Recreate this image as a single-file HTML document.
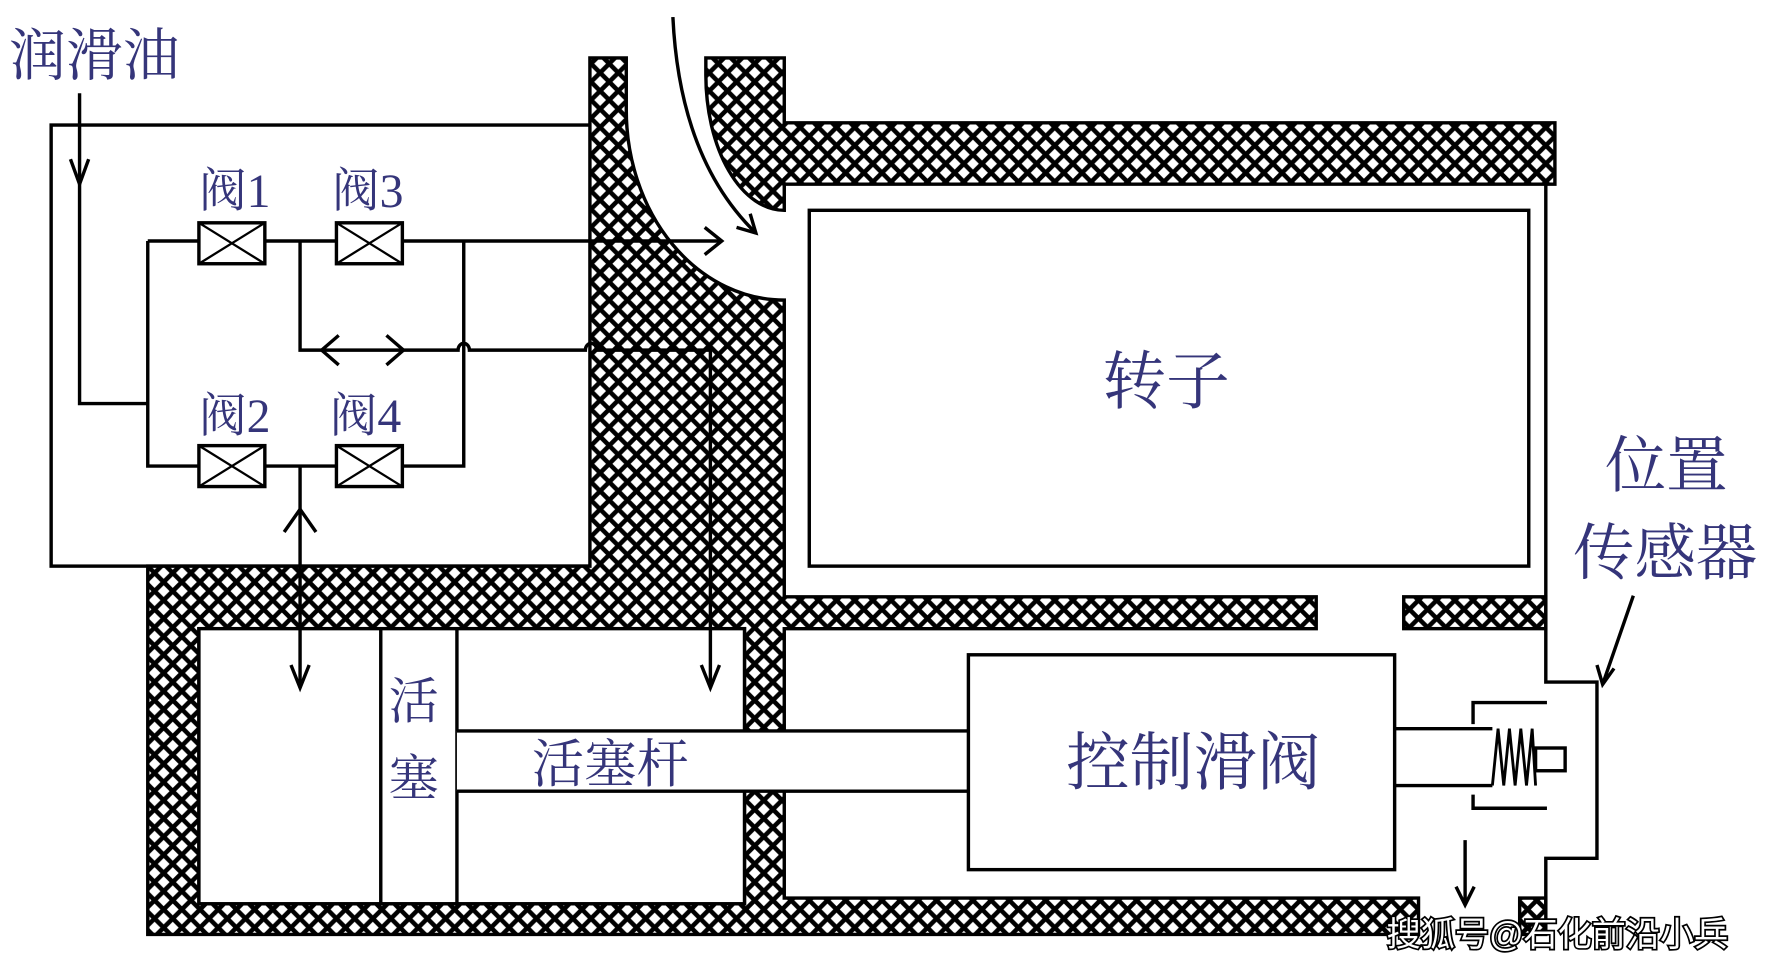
<!DOCTYPE html>
<html><head><meta charset="utf-8"><style>
html,body{margin:0;padding:0;background:#fff;width:1772px;height:964px;overflow:hidden}
svg{display:block}
.t{font-family:"Liberation Serif","Noto Serif CJK SC",serif;fill:#35357a}
</style></head><body>
<svg width="1772" height="964" viewBox="0 0 1559 848" preserveAspectRatio="none" xmlns="http://www.w3.org/2000/svg">
<defs>
<pattern id="h" width="16" height="16" patternUnits="userSpaceOnUse">
<rect width="16" height="16" fill="#fff"/>
<path d="M-2,2 L2,-2 M0,16 L16,0 M14,18 L18,14 M-2,14 L2,18 M0,0 L16,16 M14,-2 L18,2" stroke="#000" stroke-width="4"/>
</pattern>
</defs>
<g stroke="#000" stroke-width="3" fill="none">
<rect x="45" y="110" width="477" height="388"/>
<path fill="url(#h)" fill-rule="evenodd" d="M519,51 L551,51 L551,97 A139,167 0 0 0 690,264 L690,525 L1158,525 L1158,553 L690,553 L690,790 L1248,790 L1248,822 L130,822 L130,498 L519,498 Z M175,553 L655,553 L655,795 L175,795 Z"/>
<path fill="url(#h)" d="M621,51 L690,51 L690,108 L1368,108 L1368,162 L690,162 L690,185 A69,119 0 0 1 621,66 Z"/>
<rect x="1235" y="525" width="125" height="28" fill="url(#h)"/>
<rect x="1337" y="790" width="23" height="32" fill="url(#h)"/>
<rect x="712" y="185" width="633" height="313" fill="#fff"/>
<path d="M1360,162 L1360,600 L1405,600 L1405,755 L1360,755 L1360,796"/>
<rect x="175" y="553" width="480" height="242" fill="#fff"/>
<line x1="335" y1="553" x2="335" y2="795"/>
<line x1="402" y1="553" x2="402" y2="795"/>
<rect x="402" y="643" width="452" height="53" fill="#fff" stroke="none"/>
<line x1="402" y1="643" x2="852" y2="643"/>
<line x1="402" y1="696" x2="852" y2="696"/>
<rect x="852" y="576" width="375" height="189" fill="#fff"/>
<path d="M1227,641 L1313,641 M1227,691 L1313,691"/>
<path d="M1296,637 L1296,618 L1361,618 M1296,699 L1296,711 L1361,711"/>
<path d="M1313,691 L1318,641 L1323,691 L1328,641 L1333,691 L1338,641 L1343,691 L1348,641 L1351,691" stroke-width="2.5"/>
<rect x="1351" y="658" width="26" height="20" fill="#fff"/>
<path d="M1289,739 L1289,796 M1281,780 L1289,796 L1297,780"/>
<path d="M1437,524 L1410,602 M1405,585 L1410,602 L1420,588"/>
<path d="M592,15 Q598,140 665,205"/>
<path d="M648,200 L665,205 L660,188"/>
<path d="M70,82 L70,355 L130,355"/>
<path d="M62,140 L70,162 L78,140"/>
<path d="M130,212 L130,410 L175,410 M233,410 L296,410 M354,410 L408,410 L408,212"/>
<path d="M130,212 L175,212 M233,212 L296,212 M354,212 L635,212"/>
<path d="M620,200 L635,212 L620,224"/>
<path d="M264,212 L264,308 L403,308 A5,6 0 0 1 413,308 L515,308 A5,6 0 0 1 525,308 L625,308 L625,605"/>
<path d="M298,295 L283,308 L298,321 M340,295 L355,308 L340,321"/>
<path d="M617,585 L625,605 L633,585"/>
<path d="M264,410 L264,605"/>
<path d="M250,468 L264,448 L278,468"/>
<path d="M256,585 L264,605 L272,585"/>
<g fill="#fff">
<rect x="175" y="196" width="58" height="36"/><rect x="296" y="196" width="58" height="36"/>
<rect x="175" y="392" width="58" height="36"/><rect x="296" y="392" width="58" height="36"/>
</g>
<path stroke-width="2" d="M175,196 L233,232 M233,196 L175,232 M296,196 L354,232 M354,196 L296,232 M175,392 L233,428 M233,392 L175,428 M296,392 L354,428 M354,392 L296,428"/>
</g>
<g class="t">
<text x="8" y="66" font-size="50">润滑油</text>
<text x="175" y="182" font-size="42">阀1</text>
<text x="292" y="182" font-size="42">阀3</text>
<text x="175" y="380" font-size="42">阀2</text>
<text x="290" y="380" font-size="42">阀4</text>
<text x="970" y="355" font-size="56">转子</text>
<text x="938" y="690" font-size="56">控制滑阀</text>
<text x="468" y="688" font-size="46">活塞杆</text>
<text x="342" y="632" font-size="44">活</text>
<text x="342" y="700" font-size="44">塞</text>
<text x="1412" y="428" font-size="54">位置</text>
<text x="1384" y="505" font-size="54">传感器</text>
</g>
<text x="1220" y="832" font-size="30" font-family="Liberation Sans,Noto Sans CJK SC,sans-serif" fill="#fff" stroke="#000" stroke-width="3" paint-order="stroke">搜狐号@石化前沿小兵</text>
</svg>
</body></html>
